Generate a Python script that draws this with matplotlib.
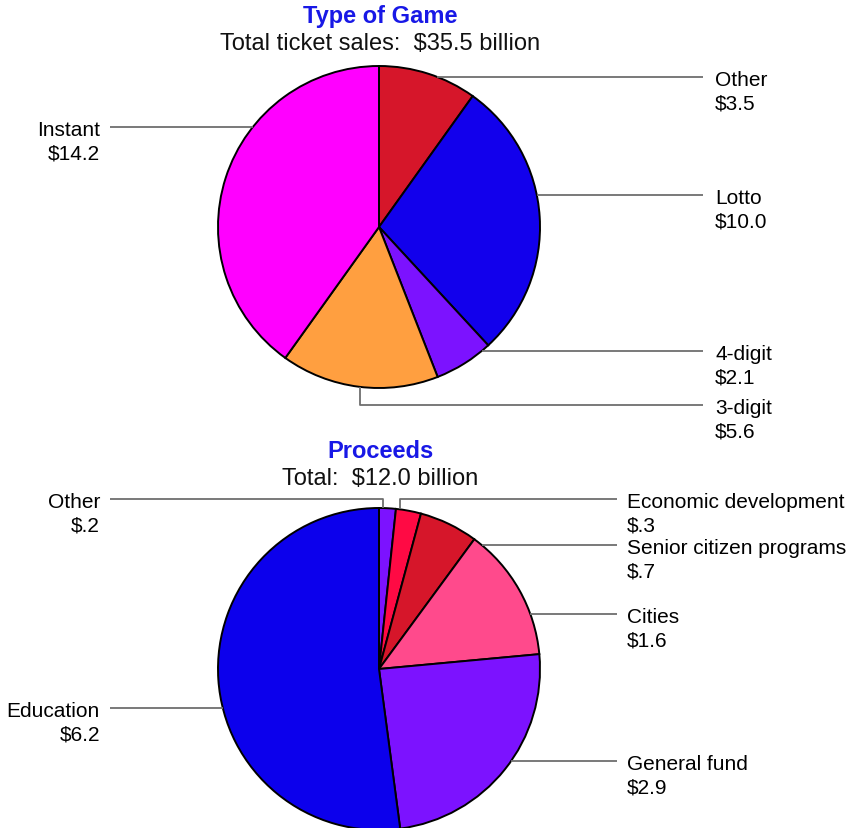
import numpy as np
import matplotlib
matplotlib.use('Agg')
import matplotlib.pyplot as plt
from matplotlib.transforms import offset_copy

plt.rcParams['font.family'] = ['Liberation Sans', 'DejaVu Sans']

# ---------------- data ----------------
game_labels = ['Other', 'Lotto', '4-digit', '3-digit', 'Instant']
game_sales = [3.5, 10.0, 2.1, 5.6, 14.2]
game_colors = ['#D6162A', '#1200EC', '#7C12FF', '#FF9F40', '#FF00FF']

use_labels = ['Other', 'Economic development', 'Senior citizen programs',
              'Cities', 'General fund', 'Education']
use_values = [0.2, 0.3, 0.7, 1.6, 2.9, 6.2]
use_colors = ['#7C12FF', '#FF0A44', '#D6162A', '#FF4A8C', '#7C12FF', '#0C00EC']

titles = ['Type of Game', 'Proceeds']
subtitles = ['Total ticket sales:  $35.5 billion', 'Total:  $12.0 billion']

# label layout (radius units): side, connector kind, params
game_layout = [('r', 'flat', 0.932), ('r', 'flat', 0.199), ('r', 'flat', -0.770),
               ('r', 'elbow', (-0.118, -1.106)), ('l', 'flat', 0.621)]
use_layout = [('l', 'elbow', (0.025, 1.056)), ('r', 'elbow', (0.130, 1.056)),
              ('r', 'flat', 0.770), ('r', 'flat', 0.342), ('r', 'flat', -0.571),
              ('l', 'flat', -0.242)]

W, H = 855, 829
fig = plt.figure(figsize=(W / 100, H / 100), dpi=100)

LINE_C = '#6E6E6E'
TITLE_C = '#1818E6'


def money(v):
    s = '%.1f' % v
    if s.startswith('0'):
        s = s[1:]
    return '$' + s


def draw_pie(cx, cy, r, values, colors, labels, layout, right_line, right_text,
             left_line, left_text):
    ax = fig.add_axes([(cx - r) / W, (H - cy - r) / H, 2 * r / W, 2 * r / H])
    ax.pie(values, colors=colors, startangle=90, counterclock=False, radius=1,
           wedgeprops=dict(edgecolor='black', linewidth=1.4))
    ax.set_xlim(-1, 1)
    ax.set_ylim(-1, 1)
    ax.set_aspect('equal')
    ax.axis('off')
    for lab, val, (side, kind, p) in zip(labels, values, layout):
        if kind == 'flat':
            y = p
            xe = np.sqrt(max(1 - y * y, 0))
            if side == 'r':
                xs, ys = [xe, right_line], [y, y]
            else:
                xs, ys = [left_line, -xe], [y, y]
        else:
            x0, y = p
            ye = np.sqrt(1 - x0 * x0) * np.sign(y)
            if side == 'r':
                xs, ys = [x0, x0, right_line], [ye, y, y]
            else:
                xs, ys = [left_line, x0, x0], [y, y, ye]
        ax.plot(xs, ys, color=LINE_C, lw=1.3, clip_on=False, solid_capstyle='butt')
        tx = right_text if side == 'r' else left_text
        ha = 'left' if side == 'r' else 'right'
        tr1 = offset_copy(ax.transData, fig=fig, y=-5.5, units='points')
        tr2 = offset_copy(ax.transData, fig=fig, y=-22.8, units='points')
        ax.text(tx, y, lab, ha=ha, va='baseline', fontsize=15, transform=tr1,
                clip_on=False)
        ax.text(tx, y, money(val), ha=ha, va='baseline', fontsize=15,
                transform=tr2, clip_on=False)
    return ax


r = 161
draw_pie(379, 228, r, game_sales, game_colors, game_labels, game_layout,
         (703 - 379) / r, (715 - 379) / r, (110 - 379) / r, (100 - 379) / r)
draw_pie(379, 670, r, use_values, use_colors, use_labels, use_layout,
         (617 - 379) / r, (627 - 379) / r, (110 - 379) / r, (100 - 379) / r)

for t, s, yt, ys in zip(titles, subtitles, [17, 452], [44, 479]):
    fig.text(380 / W, 1 - yt / H, t, ha='center', va='center', fontsize=17,
             fontweight='bold', color=TITLE_C)
    fig.text(380 / W, 1 - ys / H, s, ha='center', va='center', fontsize=17,
             color='#111111')

fig.savefig('out.png', dpi=100)
